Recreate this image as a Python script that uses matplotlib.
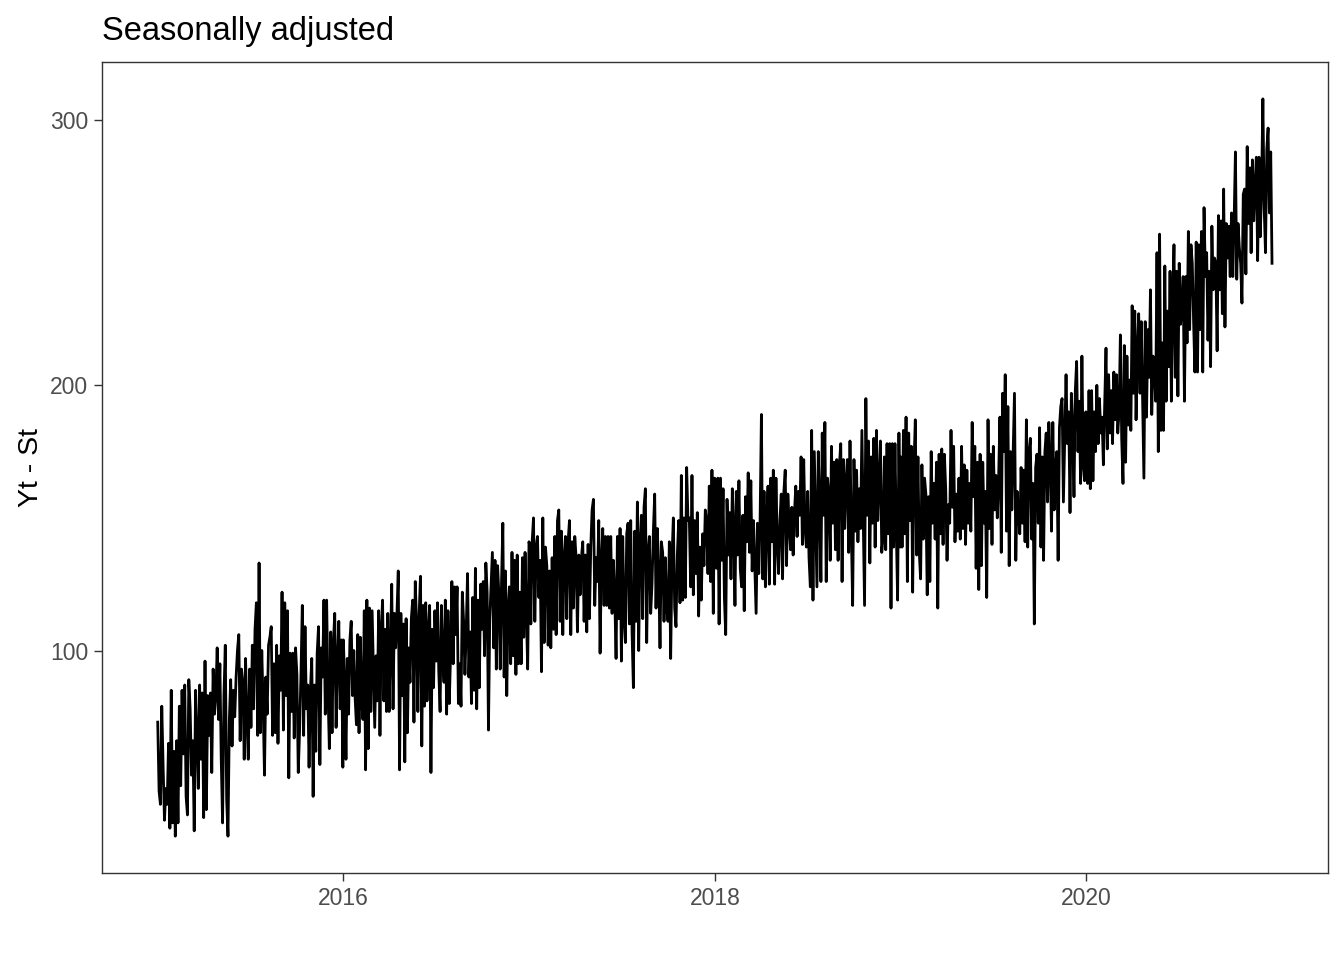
import datetime as dt
import numpy as np
import matplotlib
matplotlib.use("Agg")
import matplotlib.pyplot as plt
import matplotlib.dates as mdates

# Seasonally adjusted series (Yt - St), one list per year
y2015 = [73, 47, 42, 79, 56, 36, 48, 42, 65, 33, 85, 35, 62, 30, 66, 35, 79, 49, 85, 61,
         87, 45, 38, 89, 78, 53, 66, 32, 85, 68, 48, 87, 59, 84, 37, 96, 40, 83, 68, 84,
         54, 93, 76, 83, 101, 74, 95, 59, 35, 83, 102, 44, 30, 74, 89, 64, 85, 75, 90, 100,
         106, 66, 93, 88, 59, 97, 74, 59, 93, 71, 102, 78, 108, 118, 68, 133, 69, 100, 80, 53,
         90, 76, 102, 105, 109, 68, 95, 69, 102, 65, 98, 85, 122, 70, 118, 83, 115, 52, 99, 77,
         99, 67, 101, 91, 54, 70, 91, 117, 68, 109, 78, 87, 56, 85, 97, 45, 87, 62, 99, 109,
         57, 101, 90, 119, 76, 119, 85, 63, 107, 69, 103, 114, 71, 96, 111, 78, 104, 56]
y2016 = [104, 88, 59, 97, 76, 104, 111, 83, 100, 82, 72, 106, 69, 105, 81, 74, 115, 55, 119, 63,
         116, 77, 115, 93, 71, 98, 81, 115, 68, 108, 119, 81, 108, 77, 114, 77, 100, 125, 78, 114,
         101, 114, 130, 55, 114, 83, 110, 58, 112, 69, 101, 88, 112, 119, 73, 126, 110, 77, 114, 128,
         64, 117, 79, 118, 81, 108, 117, 54, 108, 86, 115, 96, 118, 92, 77, 117, 97, 88, 119, 76,
         115, 80, 98, 126, 95, 124, 106, 124, 80, 95, 79, 122, 111, 91, 108, 129, 90, 107, 80, 120,
         85, 131, 78, 119, 86, 125, 108, 126, 98, 133, 122, 70, 112, 124, 137, 101, 134, 93, 132, 121,
         93, 126, 148, 90, 130, 83, 116, 124, 95, 137, 98, 134, 91, 136, 95, 122, 95, 135, 105, 137,
         114, 93, 141]
y2017 = [140, 110, 141, 150, 111, 139, 143, 120, 134, 92, 150, 103, 139, 132, 102, 130, 101, 135, 108, 143,
         106, 149, 153, 111, 145, 106, 135, 143, 112, 141, 149, 106, 141, 116, 143, 135, 107, 136, 121, 135,
         141, 111, 136, 107, 140, 112, 139, 153, 157, 117, 135, 126, 149, 99, 134, 146, 117, 143, 117, 143,
         116, 143, 114, 134, 121, 97, 143, 112, 146, 96, 143, 112, 103, 144, 148, 110, 149, 107, 86, 145,
         111, 156, 100, 141, 151, 112, 154, 161, 103, 137, 143, 114, 125, 145, 159, 116, 146, 129, 101, 141,
         137, 111, 135, 116, 111, 141, 97, 135, 150, 116, 109, 136, 149, 118, 166, 119, 150, 120, 169, 149,
         150, 124, 166, 121, 149, 129, 152, 113, 139, 119, 144, 132, 153, 149, 129, 162, 126, 168, 114, 165]
y2018 = [163, 131, 165, 110, 165, 134, 161, 120, 106, 157, 136, 152, 127, 161, 146, 117, 160, 136, 164, 131,
         124, 151, 115, 158, 141, 167, 137, 164, 130, 149, 131, 114, 148, 129, 149, 189, 127, 160, 124, 149,
         162, 125, 165, 141, 168, 125, 165, 141, 129, 149, 159, 127, 160, 168, 132, 159, 148, 138, 154, 136,
         152, 162, 143, 160, 151, 173, 140, 172, 146, 139, 160, 135, 124, 183, 119, 175, 149, 124, 175, 156,
         126, 182, 151, 186, 126, 165, 159, 134, 177, 148, 171, 138, 172, 134, 170, 178, 126, 172, 146, 164,
         172, 137, 179, 145, 117, 172, 145, 168, 141, 161, 146, 183, 149, 117, 195, 151, 179, 133, 173, 148,
         180, 139, 183, 149, 163, 179, 137, 143, 173, 138, 178, 144, 178, 116, 178, 139, 178, 146, 119, 182,
         139]
y2019 = [173, 139, 183, 144, 188, 126, 182, 149, 177, 122, 170, 187, 136, 173, 137, 127, 170, 142, 165, 159,
         121, 158, 126, 175, 148, 163, 142, 171, 116, 174, 144, 176, 140, 174, 161, 134, 155, 148, 183, 154,
         177, 141, 159, 145, 165, 142, 177, 146, 170, 140, 168, 148, 163, 145, 186, 158, 177, 131, 171, 123,
         174, 132, 171, 148, 160, 120, 187, 146, 174, 140, 177, 153, 166, 150, 165, 188, 137, 197, 175, 204,
         145, 192, 132, 175, 153, 175, 197, 134, 160, 153, 144, 169, 148, 168, 141, 187, 139, 175, 180, 142,
         163, 110, 169, 174, 148, 184, 139, 173, 134, 175, 182, 156, 186, 171, 145, 186, 153, 169, 175, 134,
         184, 192, 195, 156, 180, 204, 178, 190, 152, 197, 184, 158, 198, 209, 175, 194, 163, 211, 170, 164,
         190]
y2020 = [183, 163, 198, 161, 198, 164, 190, 175, 200, 178, 195, 182, 188, 170, 193, 214, 176, 204, 182, 198,
         178, 205, 187, 204, 182, 190, 219, 180, 163, 215, 171, 211, 185, 202, 183, 230, 197, 228, 187, 213,
         227, 197, 224, 194, 165, 224, 188, 221, 203, 236, 189, 211, 207, 194, 250, 175, 257, 183, 216, 183,
         245, 194, 228, 207, 243, 194, 230, 253, 203, 243, 196, 246, 223, 229, 241, 194, 241, 216, 258, 221,
         253, 246, 224, 205, 254, 205, 253, 221, 258, 205, 267, 241, 250, 217, 243, 207, 260, 236, 248, 246,
         213, 264, 236, 262, 227, 274, 222, 261, 248, 260, 241, 265, 241, 262, 288, 240, 261, 252, 246, 231,
         272, 274, 242, 290, 261, 282, 250, 285, 262, 275, 286, 247, 286, 256, 274, 308, 267, 250, 289, 297,
         265, 288, 246]

years = [2015, 2016, 2017, 2018, 2019, 2020]
series = [y2015, y2016, y2017, y2018, y2019, y2020]

# spread each year's readings over that calendar year
dates, values = [], []
for yr, vals in zip(years, series):
    start = mdates.date2num(dt.datetime(yr, 1, 1))
    end = mdates.date2num(dt.datetime(yr, 12, 31))
    dates.extend(np.linspace(start, end, len(vals)))
    values.extend(vals)

plt.rcParams["font.family"] = ["Liberation Sans", "DejaVu Sans"]

fig = plt.figure(figsize=(13.44, 9.6), dpi=100)
ax = fig.add_axes([0.0759, 0.0906, 0.912, 0.8448])

ax.plot(mdates.num2date(dates), values, color="black", lw=2.0)
ax.margins(x=0.05, y=0.05)

ax.set_yticks([100, 200, 300])
ax.xaxis.set_major_locator(mdates.YearLocator(2))
ax.xaxis.set_major_formatter(mdates.DateFormatter("%Y"))

for s in ax.spines.values():
    s.set_color("#333333")
    s.set_linewidth(1.0)
ax.tick_params(colors="#333333", length=6, width=1.0, labelsize=16.5,
               labelcolor="#4D4D4D", pad=4)

ax.set_ylabel("Yt - St", fontsize=20.5, labelpad=4)
ax.set_title("Seasonally adjusted", loc="left", fontsize=23.5, pad=16)

fig.savefig("out.png", dpi=100)
